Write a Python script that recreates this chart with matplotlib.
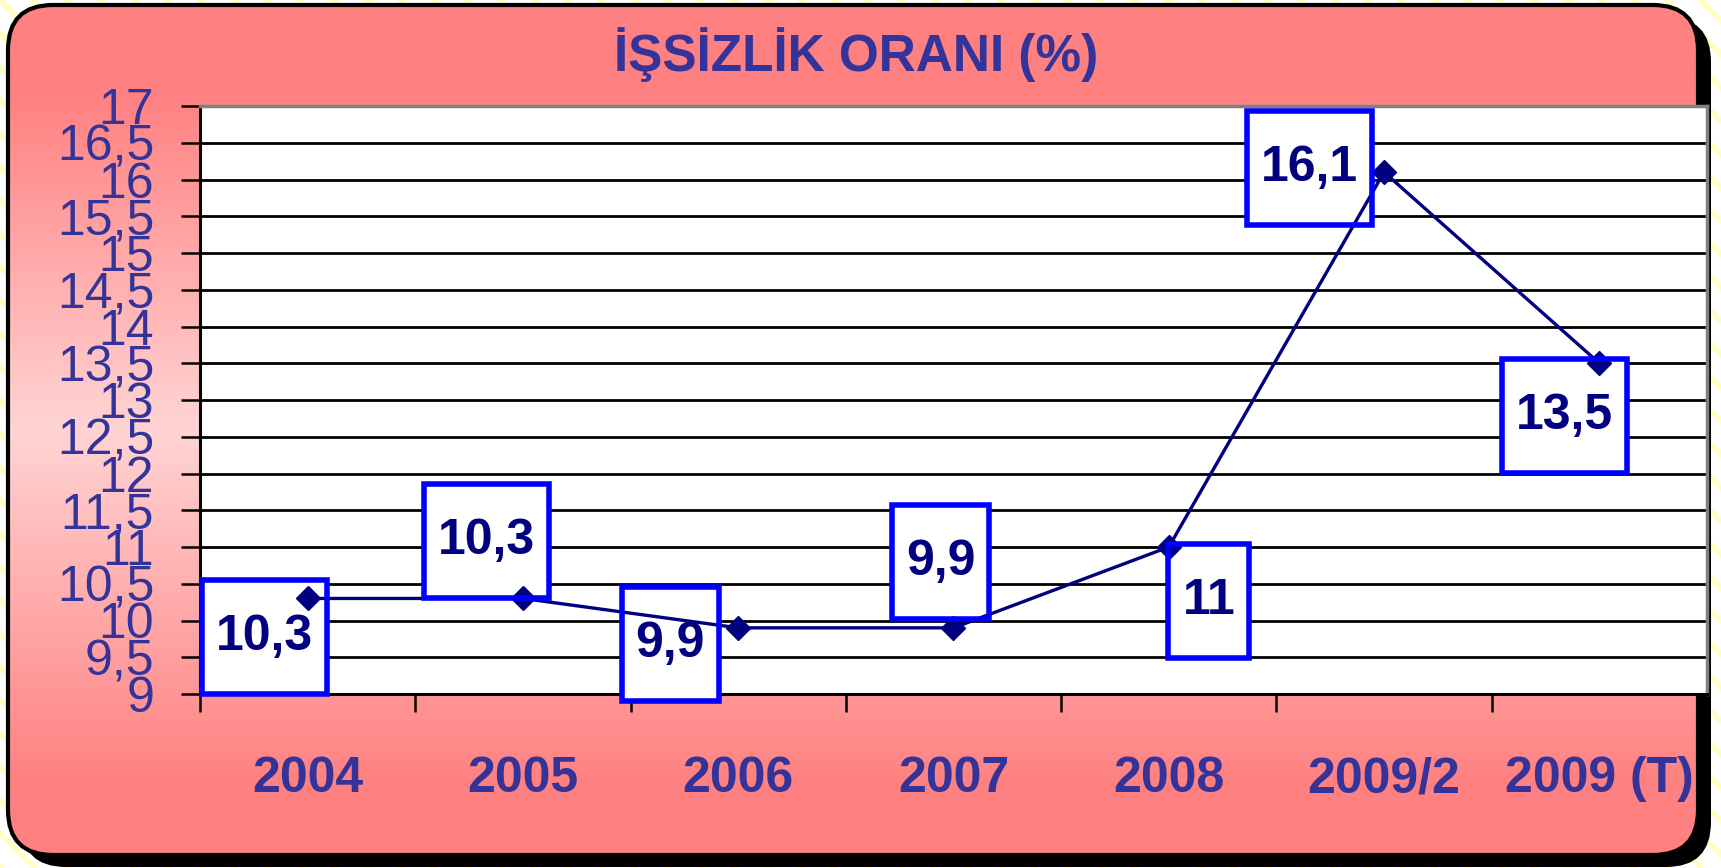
import numpy as np
import matplotlib.pyplot as plt
from matplotlib.patches import FancyBboxPatch, Rectangle
from matplotlib.transforms import IdentityTransform
from matplotlib.colors import to_rgb

categories = ['2004', '2005', '2006', '2007', '2008', '2009/2', '2009 (T)']
rates = [10.3, 10.3, 9.9, 9.9, 11, 16.1, 13.5]
labels = ['10,3', '10,3', '9,9', '9,9', '11', '16,1', '13,5']
# where each boxed label sits relative to its point (pixels)
label_offsets = [(-43, -39), (-36, 57), (-68, -16), (-13, 66),
                 (40, -54), (-75, 4), (-35, -53)]

W, H = 1721, 868
TXT = '#333399'
NAVY = '#000080'

plt.rcParams['font.family'] = ['Liberation Sans', 'DejaVu Sans']
plt.rcParams['hatch.linewidth'] = 4

fig = plt.figure(figsize=(W / 100, H / 100), dpi=100)

# background layer in pixel coordinates
bg = fig.add_axes([0, 0, 1, 1], zorder=-1)
bg.set_xlim(0, W)
bg.set_ylim(0, H)
bg.axis('off')
bg.add_patch(Rectangle((0, 0), W, H, facecolor='white', edgecolor='#ffffc4',
                       hatch='\\', lw=0))

bx, by, bw, bh = 8, 13, 1690, 850
style = 'round,pad=0,rounding_size=45'
bg.add_patch(FancyBboxPatch((bx + 13, by - 12), bw, bh, boxstyle=style,
                            fc='black', ec='none', zorder=1))

stops = [0, 0.1, 0.5, 0.92, 1.0]
stop_cols = ['#ff8080', '#ff8080', '#ffd4d4', '#ff8080', '#ff8080']
pos = np.linspace(0, 1, 500)
rgb = np.array([to_rgb(c) for c in stop_cols])
grad = np.stack([np.interp(pos, stops, rgb[:, k]) for k in range(3)], axis=1)
grad = grad[:, None, :]
im = bg.imshow(grad, extent=[bx, bx + bw, by, by + bh], aspect='auto',
               origin='upper', zorder=2)
clip = FancyBboxPatch((bx, by), bw, bh, boxstyle=style, transform=bg.transData)
im.set_clip_path(clip)
bg.add_patch(FancyBboxPatch((bx, by), bw, bh, boxstyle=style,
                            fc='none', ec='black', lw=3, zorder=3))

# main chart
ax = fig.add_axes([200 / W, (H - 694) / H, 1507 / W, 588 / H], zorder=2)
ax.set_facecolor('white')
ax.set_xlim(-0.5, 6.5)
ax.set_ylim(9, 17)

yt = np.arange(9, 17.01, 0.5)
ax.set_yticks(yt)
ax.set_yticklabels([f'{v:g}'.replace('.', ',') for v in yt])
ax.tick_params(axis='y', length=14, width=1.8, pad=19, labelsize=36,
               labelcolor=TXT)

ax.set_xticks(np.arange(-0.5, 7, 1))
ax.set_xticklabels([])
ax.set_xticks(range(len(categories)), minor=True)
ax.set_xticklabels(categories, minor=True, fontsize=36, fontweight='bold',
                   color=TXT)
ax.tick_params(axis='x', which='major', length=13, width=1.8)
ax.tick_params(axis='x', which='minor', length=0, pad=45)

ax.set_axisbelow(True)
ax.grid(axis='y', color='black', lw=2)

ax.spines['left'].set_linewidth(2.2)
ax.spines['bottom'].set_linewidth(2.2)
ax.spines['top'].set_color('#808080')
ax.spines['top'].set_linewidth(2.5)
ax.spines['right'].set_color('#808080')
ax.spines['right'].set_linewidth(2.5)

ax.plot(range(len(rates)), rates, color=NAVY, lw=2.4, marker='D', ms=12,
        zorder=3, clip_on=False)

texts = []
for i, (v, lab, off) in enumerate(zip(rates, labels, label_offsets)):
    t = ax.annotate(lab, (i, v), xytext=off, textcoords='offset pixels',
                    ha='center', va='center', fontsize=36, fontweight='bold',
                    color=NAVY, zorder=6, annotation_clip=False)
    texts.append(t)

fig.canvas.draw()
renderer = fig.canvas.get_renderer()
for t in texts:
    bb = t.get_window_extent(renderer)
    cx, cy = (bb.x0 + bb.x1) / 2, (bb.y0 + bb.y1) / 2
    w, h = bb.width + 28, 114
    ax.add_patch(Rectangle((cx - w / 2, cy - h / 2), w, h,
                           transform=IdentityTransform(), fc='white',
                           ec='none', zorder=2.6, clip_on=False))
    ax.add_patch(Rectangle((cx - w / 2, cy - h / 2), w, h,
                           transform=IdentityTransform(), fc='none',
                           ec='#0000ff', lw=4, zorder=4, clip_on=False))

fig.text(856 / W, 1 - 55 / H, 'İŞSİZLİK ORANI (%)', ha='center', va='center',
         fontsize=37, fontweight='bold', color=TXT)

fig.savefig('out.png', dpi=100)
